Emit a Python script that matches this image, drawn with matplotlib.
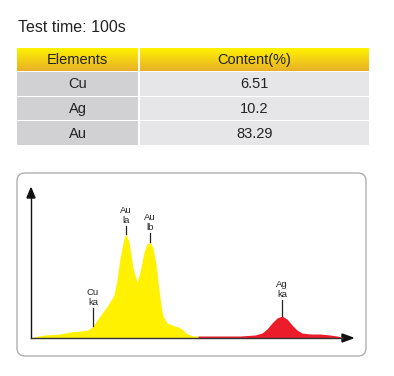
import numpy as np
import matplotlib
matplotlib.use("Agg")
import matplotlib.pyplot as plt
from matplotlib.patches import Rectangle, FancyBboxPatch, Polygon

plt.rcParams['font.family'] = ['Liberation Sans', 'DejaVu Sans']

# ---- data ----
title = "Test time: 100s"
col_headers = ["Elements", "Content(%)"]
elements = ["Cu", "Ag", "Au"]
contents = ["6.51", "10.2", "83.29"]

# spectrum (channel, counts)
yellow_x = [2, 14, 29, 39, 49, 57, 62, 69, 77, 83, 86, 89, 93, 95, 98, 102, 106, 109,
            113, 116, 119, 122, 125, 127, 130, 132, 136, 141, 147, 151, 155, 159, 163, 167]
yellow_y = [1, 3, 4, 6, 7, 8, 12, 22, 33, 43, 58, 80, 100, 104, 96, 70, 56, 66,
            86, 94, 96, 90, 74, 56, 33, 22, 15, 13, 11, 9, 5, 3, 2, 2]
red_x = [167, 189, 209, 224, 231, 236, 241, 246, 251, 256, 261, 266, 271, 279, 289, 299, 306, 310]
red_y = [2, 2, 2, 3, 5, 9, 15, 20, 22, 19, 13, 8, 5, 4, 4, 3, 2, 1]

peak_labels = ["Cu\nka", "Au\nla", "Au\nlb", "Ag\nka"]
peak_x = [62, 95, 119, 251]
peak_line_top = [30, 112, 105, 38]

W, H = 394, 376
fig = plt.figure(figsize=(W / 100, H / 100), dpi=100)

# overlay axes in pixel coordinates
bg = fig.add_axes([0, 0, 1, 1])
bg.set_xlim(0, W)
bg.set_ylim(H, 0)
bg.axis('off')

bg.text(18, 27, title, fontsize=11.5, color='#222222', va='center', ha='left')

# table
x0, xs, x1 = 17, 138, 369
header_top, header_bot = 48, 71
rows = [(72, 96), (97, 120), (121, 145)]

grad = np.linspace(0, 1, 50)[:, None]
top_c = np.array([1.0, 0.95, 0.0])
bot_c = np.array([0.91, 0.69, 0.16])
img = top_c[None, None, :] * (1 - grad[:, :, None]) + bot_c[None, None, :] * grad[:, :, None]
bg.imshow(img, extent=(x0, xs, header_bot, header_top), aspect='auto', zorder=1)
bg.imshow(img, extent=(xs + 2, x1, header_bot, header_top), aspect='auto', zorder=1)
bg.set_xlim(0, W)
bg.set_ylim(H, 0)

fs = 10.5
bg.text((x0 + xs) / 2, (header_top + header_bot) / 2 + 0.5, col_headers[0], fontsize=fs,
        color='#222222', ha='center', va='center', zorder=3)
bg.text((xs + 2 + x1) / 2, (header_top + header_bot) / 2 + 0.5, col_headers[1], fontsize=fs,
        color='#222222', ha='center', va='center', zorder=3)

for (rt, rb), el, ct in zip(rows, elements, contents):
    bg.add_patch(Rectangle((x0, rt), xs - x0, rb - rt, facecolor='#d1d1d3', edgecolor='none', zorder=1))
    bg.add_patch(Rectangle((xs + 2, rt), x1 - xs - 2, rb - rt, facecolor='#e6e6e8', edgecolor='none', zorder=1))
    bg.text((x0 + xs) / 2, (rt + rb) / 2 + 0.5, el, fontsize=fs, color='#222222',
            ha='center', va='center', zorder=3)
    bg.text((xs + 2 + x1) / 2, (rt + rb) / 2 + 0.5, ct, fontsize=fs, color='#222222',
            ha='center', va='center', zorder=3)

# chart box
bg.add_patch(FancyBboxPatch((17, 173), 349, 183, boxstyle="round,pad=0,rounding_size=8",
                            facecolor='white', edgecolor='#b0b0b0', linewidth=1.0, zorder=1))

# spectrum axes: x px 31..353, y px 338 (0) .. 188 (150)
ax_left = 31 / W
ax_bottom = (H - 338) / H
ax = fig.add_axes([ax_left, ax_bottom, (353 - 31) / W, (338 - 188) / H])
ax.set_xlim(0, 322)
ax.set_ylim(0, 150)
ax.axis('off')
ax.patch.set_alpha(0)

ax.fill_between(yellow_x, 0, yellow_y, color='#fff100', linewidth=0, zorder=2)
ax.fill_between(red_x, 0, red_y, color='#ec1c2a', linewidth=0, zorder=2)

# axes lines and arrows
ax.plot([0, 0], [0, 141], color='#111111', lw=1.0, zorder=4, clip_on=False)
ax.plot([0, 312], [0, 0], color='#333333', lw=1.0, zorder=4, clip_on=False)
bg.add_patch(Polygon([[31, 188], [27, 198], [35, 198]], closed=True, color='#111111', zorder=5))
bg.add_patch(Polygon([[353, 338], [342, 334], [342, 342]], closed=True, color='#111111', zorder=5))

all_x = np.array(yellow_x + red_x)
all_y = np.array(yellow_y + red_y)
order = np.argsort(all_x, kind='stable')
for lab, px, top in zip(peak_labels, peak_x, peak_line_top):
    base = np.interp(px, all_x[order], all_y[order])
    ax.plot([px, px], [base, top], color='#222222', lw=0.9, zorder=4)
    ax.text(px, top + 1, lab, fontsize=6.8, color='#222222', ha='center', va='bottom',
            linespacing=1.1, zorder=4)

fig.savefig("out.png", dpi=100)
